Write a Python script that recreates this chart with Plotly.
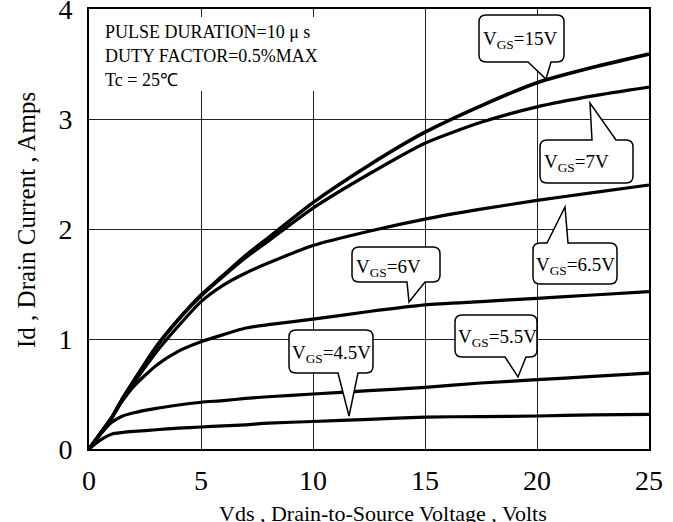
import plotly.graph_objects as go

# ---------------- data ----------------
vds = [0, 0.5, 1, 1.5, 2, 3, 4, 5, 6, 7, 8, 10, 12.5, 15, 17.5, 20, 22.5, 25]
id_15v = [0, 0.14, 0.28, 0.46, 0.62, 0.93, 1.18, 1.40, 1.58, 1.76, 1.92, 2.24, 2.58, 2.88, 3.12, 3.33, 3.47, 3.59]
id_7v = [0, 0.14, 0.28, 0.46, 0.62, 0.93, 1.18, 1.39, 1.57, 1.74, 1.89, 2.19, 2.50, 2.78, 2.97, 3.11, 3.21, 3.29]
id_6_5v = [0, 0.14, 0.28, 0.45, 0.60, 0.88, 1.12, 1.34, 1.49, 1.60, 1.69, 1.85, 1.98, 2.09, 2.18, 2.26, 2.33, 2.40]
id_6v = [0, 0.14, 0.28, 0.44, 0.57, 0.76, 0.89, 0.975, 1.04, 1.10, 1.13, 1.18, 1.25, 1.31, 1.34, 1.37, 1.40, 1.43]
id_5_5v = [0, 0.13, 0.24, 0.30, 0.33, 0.37, 0.40, 0.425, 0.44, 0.46, 0.475, 0.50, 0.53, 0.56, 0.60, 0.63, 0.66, 0.69]
id_4_5v = [0, 0.08, 0.135, 0.15, 0.16, 0.175, 0.19, 0.20, 0.21, 0.22, 0.235, 0.25, 0.27, 0.29, 0.295, 0.30, 0.31, 0.315]

x_ticks = [0, 5, 10, 15, 20, 25]
y_ticks = [0, 1, 2, 3, 4]

# ---------------- layout geometry (pixels) ----------------
W, H = 673, 522
L, R, T, B = 89, 649, 9, 449
XMAX, YMAX = 25, 4


def dx(px):
    return (px - L) / (R - L) * XMAX


def dy(py):
    return (B - py) / (B - T) * YMAX


def callout(x0, y0, x1, y1, side, a, b, tx, ty, r=7):
    pts = []
    pts.append(f"M {dx(x0 + r)},{dy(y0)}")
    if side == "top":
        pts.append(f"L {dx(a)},{dy(y0)}")
        pts.append(f"L {dx(tx)},{dy(ty)}")
        pts.append(f"L {dx(b)},{dy(y0)}")
    pts.append(f"L {dx(x1 - r)},{dy(y0)}")
    pts.append(f"Q {dx(x1)},{dy(y0)} {dx(x1)},{dy(y0 + r)}")
    pts.append(f"L {dx(x1)},{dy(y1 - r)}")
    pts.append(f"Q {dx(x1)},{dy(y1)} {dx(x1 - r)},{dy(y1)}")
    if side == "bottom":
        pts.append(f"L {dx(b)},{dy(y1)}")
        pts.append(f"L {dx(tx)},{dy(ty)}")
        pts.append(f"L {dx(a)},{dy(y1)}")
    pts.append(f"L {dx(x0 + r)},{dy(y1)}")
    pts.append(f"Q {dx(x0)},{dy(y1)} {dx(x0)},{dy(y1 - r)}")
    pts.append(f"L {dx(x0)},{dy(y0 + r)}")
    pts.append(f"Q {dx(x0)},{dy(y0)} {dx(x0 + r)},{dy(y0)} Z")
    return " ".join(pts)


fig = go.Figure()

series = [
    (id_15v, 3.6),
    (id_7v, 3.2),
    (id_6_5v, 3.2),
    (id_6v, 3.2),
    (id_5_5v, 3.2),
    (id_4_5v, 3.2),
]
for ys, w in series:
    fig.add_trace(go.Scatter(x=vds, y=ys, mode="lines",
                             line=dict(color="black", width=w, shape="spline", smoothing=0.6),
                             showlegend=False, hoverinfo="skip"))

SERIF = "Liberation Serif, Times New Roman, serif"

shapes = []
# white box behind header text
shapes.append(dict(type="rect", xref="x", yref="y", x0=dx(92), x1=dx(321), y0=dy(17), y1=dy(91),
                   fillcolor="white", line=dict(width=0), layer="above"))

callouts = [
    # box x0,y0,x1,y1, side, a, b, tip x, tip y, text, text-left, text-center-y
    (479, 15, 564, 62, "bottom", 528, 551, 546, 79, "V<sub>GS</sub>=15V", 481, 40),
    (540, 140, 633, 183, "top", 592, 616, 590, 103, "V<sub>GS</sub>=7V", 542, 163),
    (533, 243, 617, 284, "top", 547, 568, 565, 207, "V<sub>GS</sub>=6.5V", 534, 266),
    (352, 247, 440, 282, "bottom", 407, 425, 409, 302, "V<sub>GS</sub>=6V", 354, 268),
    (289, 330, 373, 373, "bottom", 338, 358, 349, 416, "V<sub>GS</sub>=4.5V", 290, 354),
    (455, 315, 537, 357, "bottom", 505, 526, 518, 377, "V<sub>GS</sub>=5.5V", 456, 338),
]

annotations = []
for (x0, y0, x1, y1, side, a, b, tx, ty, txt, tl, tcy) in callouts:
    shapes.append(dict(type="path", xref="x", yref="y", path=callout(x0, y0, x1, y1, side, a, b, tx, ty),
                       fillcolor="white", line=dict(color="black", width=1.5), layer="above"))
    annotations.append(dict(x=dx(tl), y=dy(tcy), xref="x", yref="y", text=txt, showarrow=False,
                            xanchor="left", yanchor="middle", font=dict(family=SERIF, size=19, color="black")))

header = [("PULSE DURATION=10 μ s", 32), ("DUTY FACTOR=0.5%MAX", 56), ("Tc = 25℃", 80)]
for txt, cy in header:
    annotations.append(dict(x=dx(103), y=dy(cy), xref="x", yref="y", text=txt, showarrow=False,
                            xanchor="left", yanchor="middle", font=dict(family=SERIF, size=18, color="black")))

# axis titles
annotations.append(dict(x=(27 - L) / (R - L), y=(B - 220) / (B - T), xref="paper", yref="paper",
                        text="Id , Drain Current , Amps", textangle=-90, showarrow=False,
                        xanchor="center", yanchor="middle", font=dict(family=SERIF, size=25, color="black")))
annotations.append(dict(x=(383 - L) / (R - L), y=(B - 499) / (B - T), xref="paper", yref="paper",
                        text="Vds , Drain-to-Source Voltage , Volts", showarrow=False,
                        xanchor="center", yanchor="top", font=dict(family=SERIF, size=22, color="black")))

fig.update_layout(
    width=W, height=H,
    margin=dict(l=L, r=W - R, t=T, b=H - B, pad=0, autoexpand=False),
    paper_bgcolor="white", plot_bgcolor="white",
    shapes=shapes, annotations=annotations,
    font=dict(family=SERIF, color="black"),
)
fig.update_xaxes(range=[0, XMAX], tickvals=x_ticks, ticktext=[str(v) for v in x_ticks],
                 showgrid=True, gridcolor="#222222", gridwidth=1, zeroline=False,
                 showline=True, linecolor="black", linewidth=2, mirror=True, automargin=False,
                 ticks="", tickfont=dict(family=SERIF, size=28, color="black"),
                 ticklabelstandoff=5, ticklabeloverflow="allow")
fig.update_yaxes(range=[0, YMAX], tickvals=y_ticks, ticktext=[str(v) for v in y_ticks],
                 showgrid=True, gridcolor="#222222", gridwidth=1, zeroline=False,
                 showline=True, linecolor="black", linewidth=2, mirror=True, automargin=False,
                 ticks="", tickfont=dict(family=SERIF, size=28, color="black"),
                 ticklabelstandoff=9, ticklabeloverflow="allow")

fig.write_html("out.html", config={"displayModeBar": False},
               post_script="document.body.style.margin='0px';")
